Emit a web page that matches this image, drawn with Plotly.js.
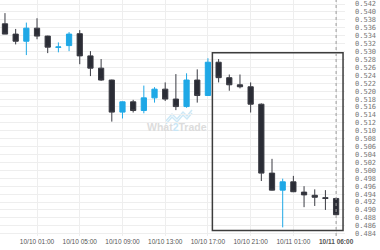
<!DOCTYPE html>
<html><head><meta charset="utf-8">
<script src="https://cdn.plot.ly/plotly-3.0.1.min.js"></script>
<style>html,body{margin:0;padding:0;background:#fff}#chart{width:380px;height:250px}</style>
</head><body><div id="chart"></div>
<script>
const times = [
  '2023-10-09 22:00','2023-10-09 23:00','2023-10-10 00:00','2023-10-10 01:00',
  '2023-10-10 02:00','2023-10-10 03:00','2023-10-10 04:00','2023-10-10 05:00',
  '2023-10-10 06:00','2023-10-10 07:00','2023-10-10 08:00','2023-10-10 09:00',
  '2023-10-10 10:00','2023-10-10 11:00','2023-10-10 12:00','2023-10-10 13:00',
  '2023-10-10 14:00','2023-10-10 15:00','2023-10-10 16:00','2023-10-10 17:00',
  '2023-10-10 18:00','2023-10-10 19:00','2023-10-10 20:00','2023-10-10 21:00',
  '2023-10-10 22:00','2023-10-10 23:00','2023-10-11 00:00','2023-10-11 01:00',
  '2023-10-11 02:00','2023-10-11 03:00','2023-10-11 04:00','2023-10-11 05:00'
];
const openP  = [0.5370,0.5344,0.5326,0.5359,0.5339,0.53105,0.5315,0.5345,0.5289,0.5258,0.5228,0.5147,0.5173,0.5151,0.5183,0.5205,0.5180,0.5161,0.5228,0.5189,0.5273,0.5234,0.5216,0.5211,0.5167,0.4993,0.4950,0.4971,0.4945,0.4937,0.4931,0.4929];
const highP  = [0.5397,0.5357,0.5373,0.5384,0.5340,0.5323,0.5349,0.5354,0.5301,0.5281,0.5229,0.5174,0.5178,0.5214,0.5210,0.5222,0.5243,0.5245,0.5255,0.5283,0.5281,0.5242,0.5242,0.5222,0.5169,0.5029,0.4979,0.4986,0.4960,0.4952,0.4950,0.4930];
const lowP   = [0.5344,0.5318,0.5291,0.5331,0.5296,0.5298,0.5301,0.5268,0.5238,0.5226,0.5123,0.5131,0.5146,0.5144,0.5171,0.5175,0.5152,0.5158,0.5171,0.5188,0.5222,0.5201,0.5207,0.5146,0.4973,0.4949,0.4856,0.4945,0.4907,0.4910,0.4900,0.4888];
const closeP = [0.5344,0.5326,0.5359,0.5339,0.5311,0.53115,0.5344,0.5289,0.5258,0.5228,0.5147,0.5173,0.5151,0.5183,0.5205,0.5180,0.5161,0.5228,0.5189,0.5273,0.5234,0.5216,0.5211,0.5167,0.4993,0.4950,0.4971,0.4946,0.4938,0.4932,0.4929,0.4888];

const tickVals = ['2023-10-10 01:00','2023-10-10 05:00','2023-10-10 09:00','2023-10-10 13:00','2023-10-10 17:00','2023-10-10 21:00','2023-10-11 01:00','2023-10-11 05:00'];
const tickText = ['10/10 01:00','10/10 05:00','10/10 09:00','10/10 13:00','10/10 17:00','10/10 21:00','10/11 01:00','<b>10/11 06:00</b>'];

const boxX = ['2023-10-10 17:25','2023-10-11 05:39'];
const boxY = [0.4848, 0.5297];
const lastTime = '2023-10-11 05:00';

const PW = 345, PH = 236;
const px = v => v / PW, py = v => 1 - v / PH;

const trace = {
  type: 'candlestick', x: times, open: openP, high: highP, low: lowP, close: closeP,
  increasing: {line: {color: '#1fa8e6', width: 1}, fillcolor: '#1fa8e6'},
  decreasing: {line: {color: '#3a3b43', width: 1}, fillcolor: '#2a2c35'},
  hoverinfo: 'skip', showlegend: false
};

const layout = {
  width: 380, height: 250,
  margin: {l: 0, r: 35, t: 0, b: 14},
  paper_bgcolor: '#ffffff', plot_bgcolor: '#ffffff',
  showlegend: false,
  font: {family: 'Liberation Sans, Arial, sans-serif'},
  xaxis: {
    type: 'date', range: ['2023-10-09 21:32', '2023-10-11 05:50'],
    tickmode: 'array', tickvals: tickVals, ticktext: tickText,
    showgrid: true, gridcolor: '#eeeeee', gridwidth: 1,
    zeroline: false, showline: false, ticks: '',
    tickfont: {size: 6.5, color: '#555'},
    rangeslider: {visible: false}, fixedrange: true
  },
  yaxis: {
    side: 'right', range: [0.48342, 0.54301],
    tickmode: 'linear', tick0: 0.484, dtick: 0.002, tickformat: '.3f',
    showgrid: true, gridcolor: '#eeeeee', gridwidth: 1,
    zeroline: false, showline: false, ticks: '',
    ticklabelstandoff: 9,
    tickfont: {family: 'DejaVu Sans Mono, monospace', size: 7, color: '#777'},
    fixedrange: true
  },
  shapes: [
    {type: 'rect', xref: 'x', yref: 'y', x0: boxX[0], x1: boxX[1], y0: boxY[0], y1: boxY[1],
     line: {color: '#3c3c3c', width: 1.5}, fillcolor: 'rgba(0,0,0,0)', layer: 'above'},
    {type: 'line', xref: 'x', yref: 'paper', x0: lastTime, x1: lastTime, y0: 0, y1: 1,
     line: {color: '#9a9a9a', width: 1, dash: 'dot'}, layer: 'above'},
    {type: 'path', xref: 'paper', yref: 'paper',
     path: `M ${px(166)},${py(121)} L ${px(172)},${py(114)} L ${px(177)},${py(119)} L ${px(183)},${py(112)} L ${px(187)},${py(116)} L ${px(192)},${py(110)}`,
     line: {color: '#cde8f6', width: 1.5}, layer: 'below'},
    {type: 'path', xref: 'paper', yref: 'paper',
     path: `M ${px(166)},${py(124)} L ${px(172)},${py(117)} L ${px(177)},${py(122)} L ${px(183)},${py(115)} L ${px(187)},${py(119)} L ${px(192)},${py(113)}`,
     line: {color: '#cde8f6', width: 1.5}, layer: 'below'}
  ],
  annotations: [
    {xref: 'paper', yref: 'paper', x: px(177), y: py(127), showarrow: false,
     text: "<b>What<span style='color:#c8e6f6'>2</span>Trade</b>",
     font: {family: 'Liberation Sans, Arial, sans-serif', size: 10.5, color: '#dcdcdc'}}
  ]
};

Plotly.newPlot('chart', [trace], layout, {displayModeBar: false, staticPlot: true});
</script>
</body></html>
